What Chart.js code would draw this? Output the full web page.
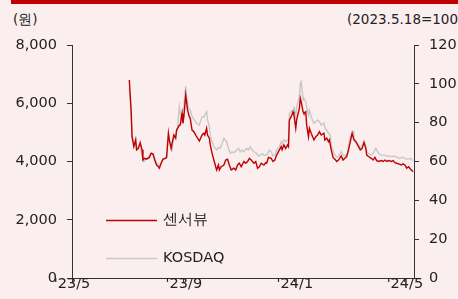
<!DOCTYPE html>
<html>
<head>
<meta charset="utf-8">
<script src="https://cdn.jsdelivr.net/npm/chart.js@4.4.1/dist/chart.umd.min.js"></script>
<style>
  html, body { margin: 0; padding: 0; background: #FBEEEE; overflow: hidden; }
  #wrap { position: relative; width: 458px; height: 299px; overflow: hidden; }
  #topbar { position: absolute; left: 11px; top: 0; width: 447px; height: 4px; background: #C00000; }
  .unit { position: absolute; top: 10px; font: 13.5px/18px "DejaVu Sans", sans-serif; color: #222; white-space: nowrap; }
  #unitL { left: 13px; }
  #unitR { left: 347px; }
  canvas { position: absolute; left: 0; top: 0; }
</style>
</head>
<body>
<div id="wrap">
  <div id="topbar"></div>
  <div class="unit" id="unitL">(원)</div>
  <div class="unit" id="unitR">(2023.5.18=100)</div>
  <canvas id="chart" width="458" height="299"></canvas>
</div>
<script>
// x축 눈금 (2023-05-01 기준 일수)
var tickDays = [0, 123, 245, 366];
var tickLabels = ["'23/5", "'23/9", "'24/1", "'24/5"];

// 센서뷰 주가 (원) - 2023-05-01 부터의 일수
var sensorDay = [63, 65, 66, 68, 70, 71, 73, 75, 77, 78, 80, 82, 85, 87, 89, 91, 93, 95, 96, 98,
  100, 103, 104, 106, 107, 109, 110, 112, 114, 115, 118, 119, 121, 122, 123, 125, 127, 129, 130, 132,
  134, 137, 140, 143, 145, 146, 148, 149, 151, 152, 154, 156, 158, 159, 161, 162, 164, 167, 169, 171,
  173, 175, 178, 180, 182, 184, 186, 189, 191, 193, 195, 197, 200, 202, 204, 206, 208, 211, 213, 214,
  216, 219, 221, 223, 225, 227, 230, 231, 233, 235, 237, 238, 239, 241, 243, 244, 246, 247, 250, 251,
  252, 254, 255, 257, 258, 260, 261, 263, 266, 268, 270, 272, 274, 277, 278, 280, 282, 283, 285, 287,
  289, 291, 293, 296, 298, 300, 302, 304, 306, 308, 310, 312, 315, 317, 319, 321, 323, 324, 326, 329,
  331, 333, 335, 337, 340, 342, 344, 346, 348, 351, 353, 355, 357, 359, 362, 364, 366, 368, 370, 373, 375];
var sensorPrice = [6800, 5770, 4850, 4510, 4740, 4400, 4450, 4650, 4400, 4050, 4110, 4080, 4140, 4280, 4260, 4050, 3880, 3820, 3770, 3940,
  4080, 4110, 4140, 4970, 4740, 4450, 4620, 4910, 4800, 5080, 5250, 5250, 5650, 5310, 5540, 6280, 5770, 5540, 5480, 5080,
  5020, 4850, 4700, 4910, 4970, 4910, 5140, 4910, 4800, 4570, 4280, 4050, 3820, 3710, 3880, 3710, 3820, 3880, 4050, 4080,
  3880, 3710, 3770, 3710, 3880, 3940, 3820, 4000, 3940, 4000, 4110, 4050, 3940, 4000, 3770, 3820, 3940, 3880, 3960, 3940,
  4140, 4110, 4000, 4050, 4220, 4340, 4510, 4400, 4570, 4450, 4570, 4510, 5430, 5540, 5710, 5600, 5140, 5430, 5830, 6170,
  6050, 5710, 5650, 5710, 5250, 4850, 5140, 4970, 4740, 4850, 4910, 5020, 4910, 4970, 4740, 4800, 4680, 4740, 4400, 4140,
  4080, 4000, 4050, 4190, 4050, 4110, 4170, 4400, 4680, 4970, 4740, 4680, 4510, 4400, 4450, 4650, 4450, 4220, 4170, 4110,
  4050, 4140, 4030, 4000, 4030, 4000, 4050, 4000, 4030, 4000, 4030, 3960, 3940, 3920, 3880, 3920, 3880, 3770, 3820, 3710, 3650];

// KOSDAQ (2023.5.18=100)
var kosdaqDay = [63, 65, 66, 68, 70, 71, 74, 75, 77, 79, 81, 84, 87, 89, 91, 93, 96, 99, 101, 104,
  106, 108, 110, 112, 114, 116, 118, 120, 121, 123, 125, 126, 128, 130, 132, 134, 136, 138, 140, 143,
  145, 146, 148, 149, 151, 152, 154, 156, 159, 161, 163, 165, 167, 170, 172, 174, 176, 178, 181, 183,
  185, 187, 189, 192, 194, 196, 198, 200, 203, 205, 207, 209, 211, 214, 217, 219, 221, 223, 225, 228,
  230, 231, 233, 235, 237, 238, 239, 241, 243, 244, 246, 247, 250, 251, 252, 254, 255, 257, 258, 260,
  261, 263, 266, 268, 270, 272, 274, 277, 278, 280, 282, 284, 285, 288, 290, 292, 294, 296, 299, 301,
  303, 304, 306, 307, 309, 310, 312, 315, 317, 319, 321, 323, 324, 326, 329, 331, 333, 334, 337, 340,
  343, 346, 348, 351, 354, 357, 360, 363, 366, 369, 372, 375];
var kosdaqIndex = [98.0, 84.8, 74.5, 68.5, 71.9, 66.8, 68.5, 69.0, 63.3, 59.9, 61.1, 62.2, 64.5, 63.9, 61.6, 59.1, 58.2, 59.9, 61.6, 62.5,
  72.8, 68.5, 65.9, 71.9, 73.6, 77.1, 88.2, 81.4, 84.8, 88.2, 98.9, 93.4, 87.4, 86.5, 83.1, 81.7, 80.5, 79.3, 78.8, 83.1,
  82.8, 84.0, 85.7, 81.4, 77.9, 73.6, 70.2, 67.6, 65.9, 67.3, 66.8, 69.4, 71.9, 70.2, 66.8, 64.2, 65.0, 64.5, 65.9, 66.8,
  65.0, 65.9, 65.0, 66.8, 65.9, 67.6, 65.9, 65.0, 64.2, 62.8, 63.3, 63.9, 63.3, 63.3, 65.9, 65.0, 62.8, 63.3, 65.9, 67.6,
  70.2, 69.0, 71.1, 70.2, 71.1, 70.7, 84.8, 85.7, 86.5, 88.2, 83.1, 88.2, 93.4, 100.3, 101.1, 91.7, 92.5, 90.8, 88.2, 84.0,
  86.5, 83.1, 79.7, 80.5, 81.4, 80.5, 78.8, 79.7, 77.1, 76.2, 74.5, 73.6, 68.5, 64.2, 62.8, 62.2, 63.3, 65.0, 62.8, 63.3,
  64.2, 68.5, 72.8, 73.6, 75.4, 71.9, 70.7, 68.5, 67.3, 68.0, 70.7, 68.5, 65.0, 64.2, 63.3, 64.2, 65.9, 66.8, 64.2, 63.3,
  63.3, 62.8, 62.8, 62.5, 62.8, 62.2, 61.6, 62.2, 61.6, 61.1, 61.6, 60.4];

var seriesNames = ['센서뷰', 'KOSDAQ'];
var seriesColors = ['#C00000', '#C8C8C8'];

function toPoints(days, values) {
    var pts = [];
    for (var i = 0; i < days.length; i++) {
        pts.push({ x: days[i], y: values[i] });
    }
    return pts;
}

var axisColor = '#333333';
var tickFont = { family: 'DejaVu Sans', size: 14.5 };

// 차트 안쪽 범례
var innerLegend = {
    id: 'innerLegend',
    afterDatasetsDraw: function(chart) {
        var ctx = chart.ctx;
        var area = chart.chartArea;
        var rows = [area.top + 175.5, area.top + 213.5];
        ctx.save();
        ctx.font = '14.5px "DejaVu Sans"';
        ctx.textBaseline = 'middle';
        chart.data.datasets.forEach(function(ds, i) {
            var y = rows[i];
            ctx.strokeStyle = ds.borderColor;
            ctx.lineWidth = 1.3;
            ctx.beginPath();
            ctx.moveTo(area.left + 34, y);
            ctx.lineTo(area.left + 85, y);
            ctx.stroke();
            ctx.fillStyle = '#222';
            ctx.fillText(ds.label, area.left + 91, y);
        });
        ctx.restore();
    }
};

var chart = new Chart(document.getElementById('chart').getContext('2d'), {
    type: 'line',
    data: {
        datasets: [
            {
                label: seriesNames[0],
                data: toPoints(sensorDay, sensorPrice),
                borderColor: seriesColors[0],
                borderWidth: 1.4,
                pointRadius: 0,
                tension: 0,
                yAxisID: 'y'
            },
            {
                label: seriesNames[1],
                data: toPoints(kosdaqDay, kosdaqIndex),
                borderColor: seriesColors[1],
                borderWidth: 1.4,
                pointRadius: 0,
                tension: 0,
                yAxisID: 'y1'
            }
        ]
    },
    options: {
        responsive: false,
        animation: false,
        devicePixelRatio: 1,
        layout: { padding: { top: 45, left: 0, right: 0, bottom: 0 } },
        plugins: {
            legend: { display: false },
            tooltip: { enabled: false }
        },
        scales: {
            x: {
                type: 'linear',
                min: 0,
                max: 376,
                afterBuildTicks: function(scale) {
                    scale.ticks = tickDays.map(function(d) { return { value: d }; });
                },
                afterFit: function(scale) { scale.height = 21; },
                ticks: {
                    autoSkip: false,
                    maxRotation: 0,
                    padding: -6,
                    color: '#222',
                    font: tickFont,
                    callback: function(value) {
                        var i = tickDays.indexOf(value);
                        return i >= 0 ? tickLabels[i] : '';
                    }
                },
                grid: { drawOnChartArea: false, drawTicks: true, tickLength: 4, color: axisColor },
                border: { display: true, color: axisColor, width: 1 }
            },
            y: {
                position: 'left',
                min: 0,
                max: 8000,
                afterFit: function(scale) { scale.width = 72; },
                ticks: {
                    stepSize: 2000,
                    padding: 10,
                    color: '#222',
                    font: tickFont,
                    callback: function(v) { return v.toLocaleString('en-US'); }
                },
                grid: { drawOnChartArea: false, drawTicks: true, tickLength: 5, color: axisColor },
                border: { display: true, color: axisColor, width: 1 }
            },
            y1: {
                position: 'right',
                min: 0,
                max: 120,
                afterFit: function(scale) { scale.width = 44; },
                ticks: {
                    stepSize: 20,
                    padding: 10,
                    color: '#222',
                    font: tickFont
                },
                grid: { drawOnChartArea: false, drawTicks: true, tickLength: 5, color: axisColor },
                border: { display: true, color: axisColor, width: 1 }
            }
        }
    },
    plugins: [innerLegend]
});
</script>
</body>
</html>
